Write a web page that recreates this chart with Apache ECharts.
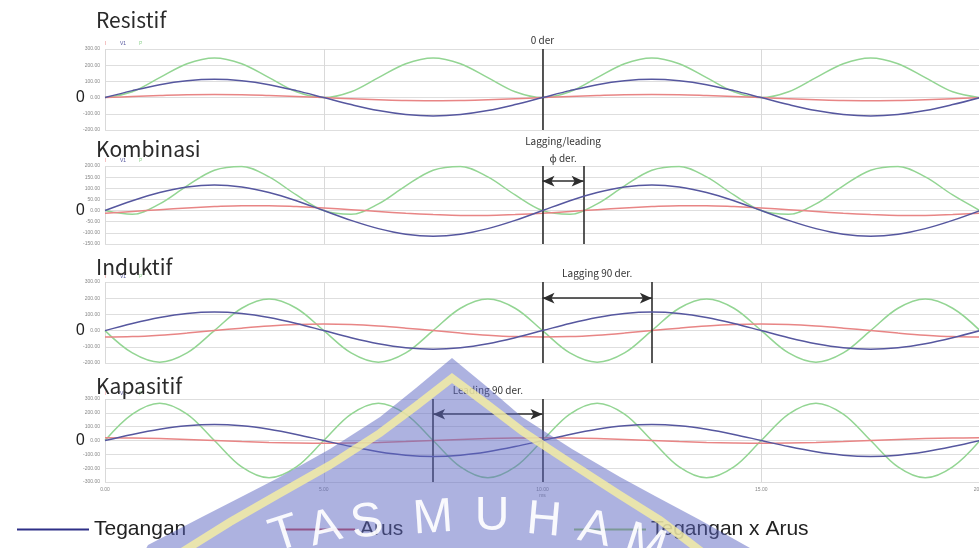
<!DOCTYPE html>
<html>
<head>
<meta charset="utf-8">
<script src="https://cdn.jsdelivr.net/npm/echarts@6/dist/echarts.min.js"></script>
<style>
  html, body { margin: 0; padding: 0; background: #ffffff; }
  #chart { width: 979px; height: 548px; }
</style>
</head>
<body>
<div id="chart"></div>
<script>
// Sample times (ms), two full voltage cycles in 22.5° steps
const time = [0, 0.625, 1.25, 1.875, 2.5, 3.125, 3.75, 4.375, 5, 5.625, 6.25, 6.875, 7.5, 8.125, 8.75, 9.375,
  10, 10.625, 11.25, 11.875, 12.5, 13.125, 13.75, 14.375, 15, 15.625, 16.25, 16.875, 17.5, 18.125, 18.75, 19.375, 20];

// Resistif: current in phase with voltage
const resistifV = [0, 43, 80, 104, 113, 104, 80, 43, 0, -43, -80, -104, -113, -104, -80, -43,
  0, 43, 80, 104, 113, 104, 80, 43, 0, -43, -80, -104, -113, -104, -80, -43, 0];
const resistifI = [0, 7, 13, 18, 19, 18, 13, 7, 0, -7, -13, -18, -19, -18, -13, -7,
  0, 7, 13, 18, 19, 18, 13, 7, 0, -7, -13, -18, -19, -18, -13, -7, 0];
const resistifP = [0, 36, 123, 209, 245, 209, 123, 36, 0, 36, 123, 209, 245, 209, 123, 36,
  0, 36, 123, 209, 245, 209, 123, 36, 0, 36, 123, 209, 245, 209, 123, 36, 0];

// Kombinasi: current shifted by a phase angle
const kombinasiV = [0, 44, 81, 106, 115, 106, 81, 44, 0, -44, -81, -106, -115, -106, -81, -44,
  0, 44, 81, 106, 115, 106, 81, 44, 0, -44, -81, -106, -115, -106, -81, -44, 0];
const kombinasiI = [-12, -4, 4, 12, 18, 22, 22, 18, 12, 4, -4, -12, -18, -22, -22, -18,
  -12, -4, 4, 12, 18, 22, 22, 18, 12, 4, -4, -12, -18, -22, -22, -18, -12];
const kombinasiP = [0, -17, 30, 111, 181, 198, 151, 70, 0, -17, 30, 111, 181, 198, 151, 70,
  0, -17, 30, 111, 181, 198, 151, 70, 0, -17, 30, 111, 181, 198, 151, 70, 0];

// Induktif: current lags by 90°
const induktifV = [0, 44, 81, 106, 115, 106, 81, 44, 0, -44, -81, -106, -115, -106, -81, -44,
  0, 44, 81, 106, 115, 106, 81, 44, 0, -44, -81, -106, -115, -106, -81, -44, 0];
const induktifI = [-40, -37, -28, -15, 0, 15, 28, 37, 40, 37, 28, 15, 0, -15, -28, -37,
  -40, -37, -28, -15, 0, 15, 28, 37, 40, 37, 28, 15, 0, -15, -28, -37, -40];
const induktifP = [0, -138, -195, -138, 0, 138, 195, 138, 0, -138, -195, -138, 0, 138, 195, 138,
  0, -138, -195, -138, 0, 138, 195, 138, 0, -138, -195, -138, 0, 138, 195, 138, 0];

// Kapasitif: current leads by 90°
const kapasitifV = [0, 44, 81, 106, 115, 106, 81, 44, 0, -44, -81, -106, -115, -106, -81, -44,
  0, 44, 81, 106, 115, 106, 81, 44, 0, -44, -81, -106, -115, -106, -81, -44, 0];
const kapasitifI = [20, 18, 14, 8, 0, -8, -14, -18, -20, -18, -14, -8, 0, 8, 14, 18,
  20, 18, 14, 8, 0, -8, -14, -18, -20, -18, -14, -8, 0, 8, 14, 18, 20];
const kapasitifP = [0, 191, 270, 191, 0, -191, -270, -191, 0, 191, 270, 191, 0, -191, -270, -191,
  0, 191, 270, 191, 0, -191, -270, -191, 0, 191, 270, 191, 0, -191, -270, -191, 0];

// Panel names and vertical ranges
const panelTitles = ['Resistif', 'Kombinasi', 'Induktif', 'Kapasitif'];
const yMin = [-200, -150, -200, -300];
const yMax = [300, 200, 300, 300];
const yStep = [100, 50, 100, 100];
const xTickLabels = ['0.00', '5.00', '10.00\nms', '15.00', '20.00'];

// Phase markers (time positions) and arrow heights per panel
const markerPairs = [[10], [10, 10.94], [10, 12.5], [7.5, 10]];
const arrowLevel = [null, 132, 200, 190];
const markerTexts = [['0 der'], ['Lagging/leading', 'ϕ der.'], ['Lagging 90 der.'], ['Leading 90 der.']];

const seriesNames = ['Tegangan', 'Arus', 'Tegangan x Arus'];
const panelData = [
  [resistifV, resistifI, resistifP],
  [kombinasiV, kombinasiI, kombinasiP],
  [induktifV, induktifI, induktifP],
  [kapasitifV, kapasitifI, kapasitifP]
];

const colors = { v: '#56579f', i: '#e88585', p: '#93d593' };
const lineColors = [colors.v, colors.i, colors.p];

const gridBoxes = [
  { left: 105, top: 49, width: 875, height: 81 },
  { left: 105, top: 166, width: 875, height: 78 },
  { left: 105, top: 282, width: 875, height: 81 },
  { left: 105, top: 399, width: 875, height: 83 }
];

const titleTops = [5, 134, 252, 371];

const chart = echarts.init(document.getElementById('chart'), null, { renderer: 'canvas' });

const grids = [], xAxes = [], yAxes = [], series = [], titles = [];
gridBoxes.forEach((g, k) => {
  grids.push(Object.assign({ containLabel: false, outerBoundsMode: 'none' }, g));
  xAxes.push({
    type: 'value', gridIndex: k, min: 0, max: 20, interval: 5,
    axisLine: { show: false }, axisTick: { show: false },
    axisLabel: {
      show: k === 3, fontSize: 5, color: '#888', margin: 5, lineHeight: 6,
      formatter: (v) => xTickLabels[Math.round(v / 5)]
    },
    splitLine: { show: true, lineStyle: { color: '#d9d9d9', width: 1 } }
  });
  yAxes.push({
    type: 'value', gridIndex: k, min: yMin[k], max: yMax[k], interval: yStep[k],
    axisLine: { show: false }, axisTick: { show: false },
    axisLabel: { fontSize: 5, color: '#888', margin: 5, formatter: (v) => v.toFixed(2) },
    splitLine: { lineStyle: { color: '#dedede', width: 1 } }
  });
  titles.push({
    text: panelTitles[k], left: 91, top: titleTops[k],
    textStyle: { fontFamily: 'Noto Sans CJK JP', fontSize: 21, fontWeight: 'normal', color: '#2a2a2a' }
  });

  // order drawn: green, red, blue (blue on top)
  [2, 1, 0].forEach((s) => {
    const item = {
      name: seriesNames[s], type: 'line', xAxisIndex: k, yAxisIndex: k,
      data: time.map((t, j) => [t, panelData[k][s][j]]),
      smooth: 0.35, showSymbol: false, symbol: 'none',
      lineStyle: { color: lineColors[s], width: 1.5 },
      itemStyle: { color: lineColors[s] },
      silent: true, z: 3 + (2 - s)
    };
    if (s === 0) {
      const ml = [];
      markerPairs[k].forEach((xv) => ml.push({ xAxis: xv }));
      if (arrowLevel[k] !== null) {
        const [a, b] = markerPairs[k];
        ml.push([
          { coord: [a, arrowLevel[k]], symbol: 'arrow', symbolSize: [8, 12] },
          { coord: [b, arrowLevel[k]], symbol: 'arrow', symbolSize: [8, 12] }
        ]);
      }
      item.markLine = {
        silent: true, symbol: 'none', animation: false,
        label: { show: false },
        lineStyle: { color: '#2d2d2d', width: 1.6, type: 'solid' },
        data: ml
      };
    }
    series.push(item);
  });
});

const legendFont = { fontFamily: 'Liberation Sans, Arial, sans-serif', fontSize: 21, color: '#222' };
const legendColors = ['#2e3087', '#c8424f', '#9ccc6c'];
const legendLefts = [12, 278, 569];
const legends = seriesNames.map((n, s) => ({
  left: legendLefts[s], top: 514, itemWidth: 72, itemHeight: 2, icon: 'rect', itemGap: 6,
  selectedMode: false,
  data: [{ name: n, itemStyle: { color: legendColors[s] } }],
  textStyle: legendFont
}));

chart.setOption({
  animation: false,
  backgroundColor: '#ffffff',
  title: titles,
  grid: grids,
  xAxis: xAxes,
  yAxis: yAxes,
  legend: legends,
  series: series
});

// Annotation texts, zero markers and small channel tags, placed from axis coordinates
const graphics = [];
const annoFont = 'Noto Sans CJK JP, Noto Sans, sans-serif';
gridBoxes.forEach((g, k) => {
  const zeroY = chart.convertToPixel({ yAxisIndex: k }, 0);
  graphics.push({
    type: 'text', x: 85, y: zeroY,
    style: { text: '0', font: '16px Noto Sans', fill: '#222', align: 'right', verticalAlign: 'middle' }
  });
  const topY = chart.convertToPixel({ yAxisIndex: k }, yMax[k]);
  const xs = markerPairs[k].map((v) => chart.convertToPixel({ xAxisIndex: k }, v));
  const cx = xs.length > 1 ? (xs[0] + xs[1]) / 2 : xs[0];
  const texts = markerTexts[k];
  if (texts.length === 2) {
    graphics.push({ type: 'text', x: cx, y: topY - 25, style: { text: texts[0], font: '10px ' + annoFont, fill: '#333', align: 'center', verticalAlign: 'middle' } });
    graphics.push({ type: 'text', x: cx, y: topY - 8, style: { text: texts[1], font: '10px ' + annoFont, fill: '#333', align: 'center', verticalAlign: 'middle' } });
  } else {
    graphics.push({ type: 'text', x: cx, y: topY - 9, style: { text: texts[0], font: '10px ' + annoFont, fill: '#333', align: 'center', verticalAlign: 'middle' } });
  }
  // tiny channel tags above each plot
  const tags = [['I', colors.i, 0], ['V1', colors.v, 15], ['P', colors.p, 34]];
  tags.forEach(([t, c, dx]) => {
    graphics.push({ type: 'text', x: g.left + dx, y: topY - 5, style: { text: t, font: '5px sans-serif', fill: c, verticalAlign: 'middle' } });
  });
});

// Semi-transparent emblem laid over the lower middle of the page:
// a pointed blue arch with a pale yellow inner border and arched white lettering
graphics.push({
  type: 'polygon', z: 100, silent: true,
  shape: { points: [[452, 358], [416, 388], [380, 417], [330, 449], [280, 477], [243, 496], [200, 518],
    [148, 545], [140, 560], [760, 560], [750, 548], [700, 520], [655, 496], [620, 477], [572, 449],
    [522, 417], [486, 386]] },
  style: { fill: 'rgba(92,102,194,0.5)' }
});
graphics.push({
  type: 'polyline', z: 101, silent: true,
  shape: { points: [[182, 552], [230, 522], [277, 495], [330, 465], [380, 433], [416, 406], [452, 378],
    [488, 405], [522, 431], [572, 464], [620, 495], [660, 520], [702, 552]] },
  style: { stroke: 'rgba(248,240,160,0.8)', lineWidth: 8, fill: null, lineJoin: 'miter' }
});
const emblemLetters = ['T', 'A', 'S', 'M', 'U', 'H', 'A', 'M'];
const letterPos = [[285, 535, 18], [325, 529, 14], [367, 523, 9], [433, 519, 4], [492, 517, 0],
  [544, 521, -5], [595, 530, -12], [645, 545, -18]];
emblemLetters.forEach((ch, j) => {
  const [lx, ly, rot] = letterPos[j];
  graphics.push({
    type: 'text', z: 102, silent: true, x: lx, y: ly, rotation: rot * Math.PI / 180,
    style: { text: ch, font: '48px Liberation Sans', fill: 'rgba(255,255,255,0.92)', align: 'center', verticalAlign: 'middle' }
  });
});
chart.setOption({ graphic: graphics });
</script>
</body>
</html>
